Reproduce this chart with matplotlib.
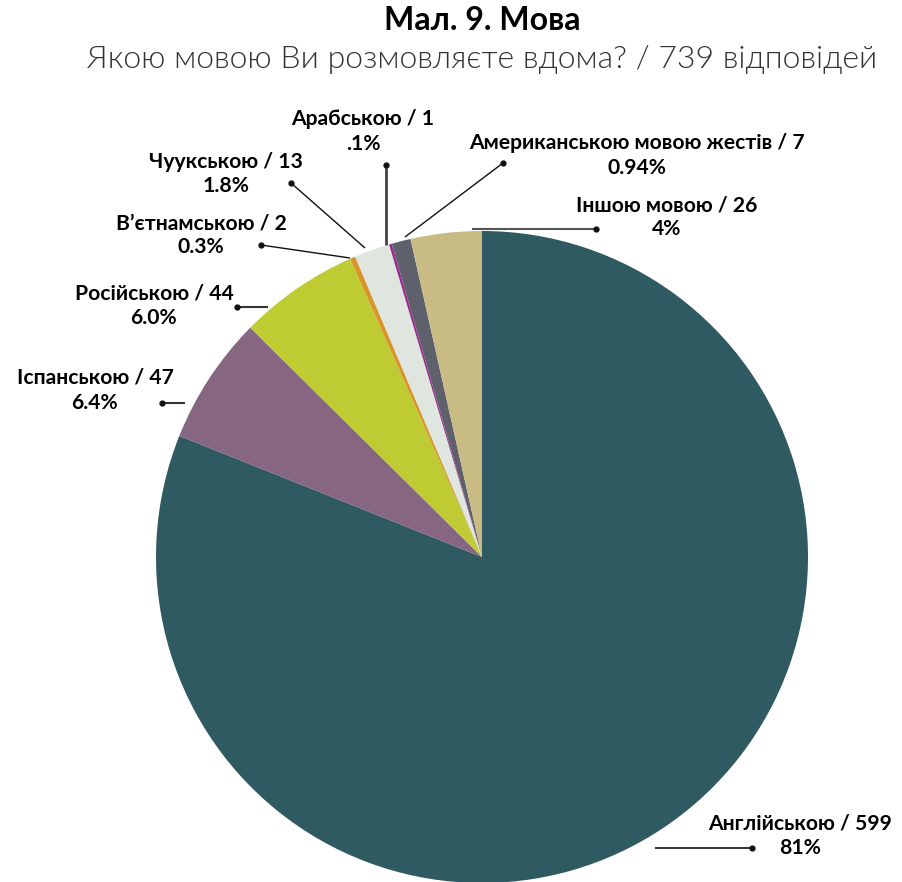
import matplotlib
matplotlib.use("Agg")
import matplotlib.pyplot as plt
import numpy as np

plt.rcParams['font.family'] = ['Lato', 'DejaVu Sans']

categories = ["Англійською", "Іспанською", "Російською", "В’єтнамською",
              "Чуукською", "Арабською", "Американською мовою жестів", "Іншою мовою"]
counts = [599, 47, 44, 2, 13, 1, 7, 26]
pct_labels = ["81%", "6.4%", "6.0%", "0.3%", "1.8%", ".1%", "0.94%", "4%"]
colors = ["#2f5a61", "#876682", "#bfcb33", "#d8952a", "#dfe5df", "#9c2a8f", "#5e606b", "#c8bb84"]

title = "Мал. 9. Мова"
subtitle = "Якою мовою Ви розмовляєте вдома? / 739 відповідей"

W, H = 903, 882
fig = plt.figure(figsize=(W / 100, H / 100), dpi=100)
ax = fig.add_axes([0, 0, 1, 1])

cx, cy, R = 482, H - 557, 326
ax.pie(counts, colors=colors, startangle=90, counterclock=False,
       center=(cx, cy), radius=R, frame=True,
       wedgeprops=dict(linewidth=0))
ax.set_xlim(0, W)
ax.set_ylim(0, H)
ax.set_aspect('equal')
ax.axis('off')

def P(x, y):
    return (x, H - y)

# label layout: (text center x, line1 y, line2 y, line start, dot position, line color, lw)
layout = [
    (800, 823, 848, (655, 848), (752, 848), "#111111", 1.2),
    (95, 378, 403, (185, 403), (162, 403), "#333333", 1.5),
    (154, 293, 318, (268, 307), (237, 307), "#333333", 1.5),
    (201, 223, 247, (350, 258), (261, 245), "#111111", 1.0),
    (226, 162, 186, (365, 248), (291, 183), "#111111", 1.0),
    (363, 119, 144, (386, 245), (386, 165), "#444444", 2.0),
    (637, 143, 168, (405, 237), (503, 163), "#111111", 1.0),
    (667, 206, 229, (472, 229), (596, 229), "#555555", 1.5),
]

for cat, n, pl, (tx, y1, y2, s, d, lc, lw) in zip(categories, counts, pct_labels, layout):
    ax.text(*P(tx, y1), f"{cat} / {n}", ha='center', va='center',
            fontsize=15.2, fontweight='bold', color='#000000')
    ax.text(*P(tx, y2), pl, ha='center', va='center',
            fontsize=15.2, fontweight='bold', color='#000000')
    ax.plot([s[0], d[0]], [H - s[1], H - d[1]], color=lc, lw=lw, solid_capstyle='butt')
    ax.plot([d[0]], [H - d[1]], 'o', color='#111111', markersize=3.5)

ax.text(*P(482, 21), title, ha='center', va='center', fontsize=23,
        fontweight='bold', color='#000000')
ax.text(*P(482, 60), subtitle, ha='center', va='center', fontsize=23,
        fontweight=300, color='#333333')

fig.savefig("out.png", dpi=100)
